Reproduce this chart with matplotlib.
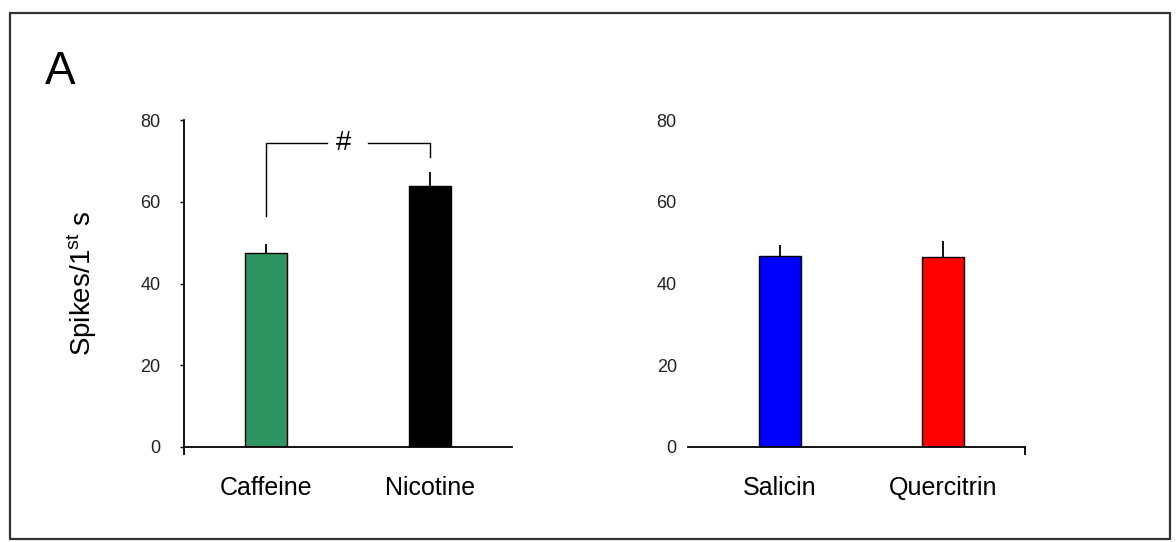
import matplotlib
matplotlib.use('Agg')
import matplotlib.pyplot as plt
from matplotlib.patches import Rectangle

plt.rcParams['font.family'] = ['Liberation Sans', 'DejaVu Sans']
plt.rcParams['mathtext.fontset'] = 'custom'
plt.rcParams['mathtext.rm'] = 'Liberation Sans'

# panel A, left: caffeine vs nicotine
left_names = ["Caffeine", "Nicotine"]
left_means = [47.4, 63.8]
left_err = [2.2, 3.4]
left_colors = ["#2e9462", "#000000"]

# panel A, right: salicin vs quercitrin
right_names = ["Salicin", "Quercitrin"]
right_means = [46.8, 46.5]
right_err = [2.7, 4.0]
right_colors = ["#0000ff", "#ff0000"]

# significance bracket between caffeine and nicotine
bracket_x = [0, 0, 0.37, 0.62, 1, 1]
bracket_y = [56.5, 74.3, 74.3, 74.3, 74.3, 71.0]
yticks = [0, 20, 40, 60, 80]

fig = plt.figure(figsize=(11.76, 5.42), dpi=100)

# outer frame round the panel
fig.patches.append(Rectangle((0.0085, 0.0055), 0.986, 0.970, transform=fig.transFigure,
                             fill=False, edgecolor="#333333", linewidth=1.6))
fig.text(0.038, 0.867, "A", fontsize=33, va="center", ha="left")

ax1 = fig.add_axes([0.1565, 0.1753, 0.279, 0.603])
ax2 = fig.add_axes([0.585, 0.1753, 0.2866, 0.603])

for ax, names, means, err, cols, xlim in [
        (ax1, left_names, left_means, left_err, left_colors, (-0.5, 1.5)),
        (ax2, right_names, right_means, right_err, right_colors, (-0.564, 1.503))]:
    xs = list(range(len(names)))
    ax.bar(xs, means, width=0.26, color=cols, edgecolor="black", linewidth=1.0, zorder=2)
    ax.errorbar(xs, means, yerr=[[0] * len(err), err], fmt="none", ecolor="black",
                elinewidth=1.3, capsize=0, zorder=3)
    ax.set_xlim(*xlim)
    ax.set_ylim(0, 80)
    ax.set_yticks(yticks)
    ax.set_xticks(xs)
    ax.set_xticklabels(names, fontsize=18)
    ax.tick_params(axis="x", length=0, pad=21)
    for s in ["top", "right"]:
        ax.spines[s].set_visible(False)
    ax.spines["bottom"].set_linewidth(1.3)
    ax.spines["left"].set_linewidth(1.3)
    for lab in ax.get_yticklabels():
        lab.set_fontsize(13)
        lab.set_color("#222222")

# left panel: y spine and a tick at the left end of the x axis
ax1.tick_params(axis="y", length=3, width=1.0, pad=14)
ax1.set_xticks([ax1.get_xlim()[0]], minor=True)
ax1.tick_params(axis="x", which="minor", length=6, width=1.3, direction="out")
ax1.set_ylabel(r"Spikes/1$^{\rm st}$ s", fontsize=20, labelpad=30)
ax1.plot(bracket_x[:3], bracket_y[:3], color="black", linewidth=1.0, zorder=4)
ax1.plot(bracket_x[3:], bracket_y[3:], color="black", linewidth=1.0, zorder=4)
ax1.text(0.47, bracket_y[2], "#", fontsize=20, ha="center", va="center")

# right panel: no y spine, tick at the right end of the x axis
ax2.spines["left"].set_visible(False)
ax2.tick_params(axis="y", length=0, pad=8)
ax2.set_xticks([ax2.get_xlim()[1]], minor=True)
ax2.tick_params(axis="x", which="minor", length=6, width=1.3, direction="out")

fig.savefig("out.png", dpi=100)
